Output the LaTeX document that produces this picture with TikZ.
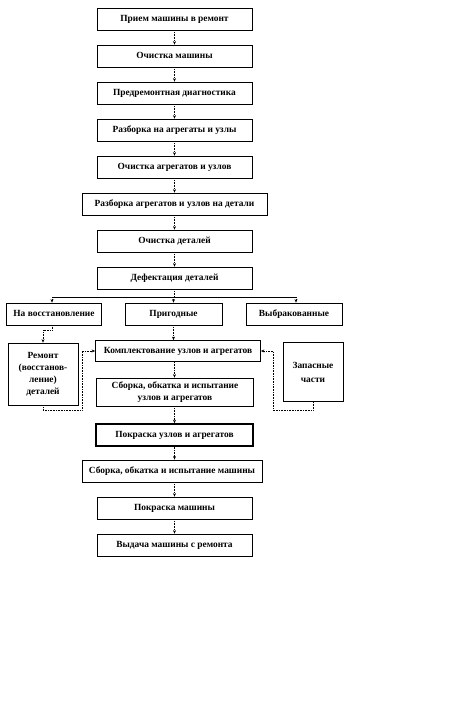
\documentclass[tikz,border=0pt]{standalone}
\usepackage{fontspec}
\setmainfont{Liberation Serif}
\usetikzlibrary{arrows.meta,positioning,calc}

\tikzset{
  stage/.style={draw, line width=0.8pt, minimum height=22pt, inner sep=1pt, align=center, text height=6pt, text depth=2pt, font=\fontsize{9.4}{12}\selectfont\bfseries},
  flow/.style={densely dotted, line width=0.6pt, -{Stealth[length=3.5pt,width=3pt]}},
  link/.style={line width=0.5pt}
}

\begin{document}
\begin{tikzpicture}[x=1pt,y=-1pt]
    \useasboundingbox (0,0) rectangle (474,715);
    % main chain
    \foreach \name/\y/\w/\txt in {priem/19/155/Прием машины в ремонт,
        ochm/56/155/Очистка машины,
        diag/93/155/Предремонтная диагностика,
        razb/130/155/Разборка на агрегаты и узлы,
        ochag/167/155/Очистка агрегатов и узлов,
        razbd/204/185/Разборка агрегатов и узлов на детали,
        ochd/241/155/Очистка деталей,
        defekt/278/155/Дефектация деталей} {
      \node[stage, minimum width=\w pt] (\name) at (174.5,\y) {\txt};
    }
    \foreach \a/\b in {priem/ochm,ochm/diag,diag/razb,razb/ochag,ochag/razbd,razbd/ochd,ochd/defekt} {
      \draw[flow] (\a.south) -- (\a.south |- \b.north);
    }
    % sorting of parts
    \node[stage, minimum width=95pt] (vosst) at (54,314) {На восстановление};
    \node[stage, minimum width=97pt] (prig) at (173.5,314) {Пригодные};
    \node[stage, minimum width=96pt] (vybr) at (294,314) {Выбракованные};
    \coordinate (split) at (174.5,297);
    \draw[densely dotted, line width=0.6pt] (defekt.south) -- (split);
    \draw[link] (52,297) -- (296,297);
    \draw[flow] (52,297) -- (52,297 |- vosst.north);
    \draw[flow] (296,297) -- (296,297 |- vybr.north);
    \draw[flow] (173.5,297) -- (prig.north);
    % assembly
    \node[stage, minimum width=70pt, minimum height=62pt, text height=, text depth=, font=\fontsize{9.4}{12}\selectfont\bfseries] (remont) at (43,374) {Ремонт\\(восстанов-\\ление)\\деталей};
    \node[stage, minimum width=165pt, minimum height=21pt] (kompl) at (178,351) {Комплектование узлов и агрегатов};
    \node[stage, minimum width=60pt, minimum height=59pt, text height=, text depth=, font=\fontsize{9.4}{14}\selectfont\bfseries] (zapas) at (313,372) {Запасные\\части};
    \node[stage, minimum width=157pt, minimum height=28pt, text height=, text depth=] (sborku) at (175,392) {Сборка, обкатка и испытание\\узлов и агрегатов};
    \node[stage, minimum width=157pt, line width=1.6pt] (kraskau) at (174.5,435) {Покраска узлов и агрегатов};
    \node[stage, minimum width=180pt] (sborkm) at (172,471) {Сборка, обкатка и испытание машины};
    \node[stage, minimum width=155pt] (kraskam) at (174.5,508) {Покраска машины};
    \node[stage, minimum width=155pt] (vydacha) at (174.5,545) {Выдача машины с ремонта};
    \draw[flow] (52,325) -- (52,330) -- (43,330) -- (remont.north);
    \draw[flow] (remont.south) -- (43,410) -- (82,410) -- (82,351) -- (kompl.west);
    \draw[flow] (zapas.south) -- (313,410) -- (273,410) -- (273,351) -- (kompl.east);
    \draw[flow] (prig.south) -- (prig.south |- kompl.north);
    \foreach \a/\b in {kompl/sborku,sborku/kraskau,kraskau/sborkm,sborkm/kraskam,kraskam/vydacha} {
      \draw[flow] (174.5,0 |- \a.south) -- (174.5,0 |- \b.north);
    }
\end{tikzpicture}
\end{document}
